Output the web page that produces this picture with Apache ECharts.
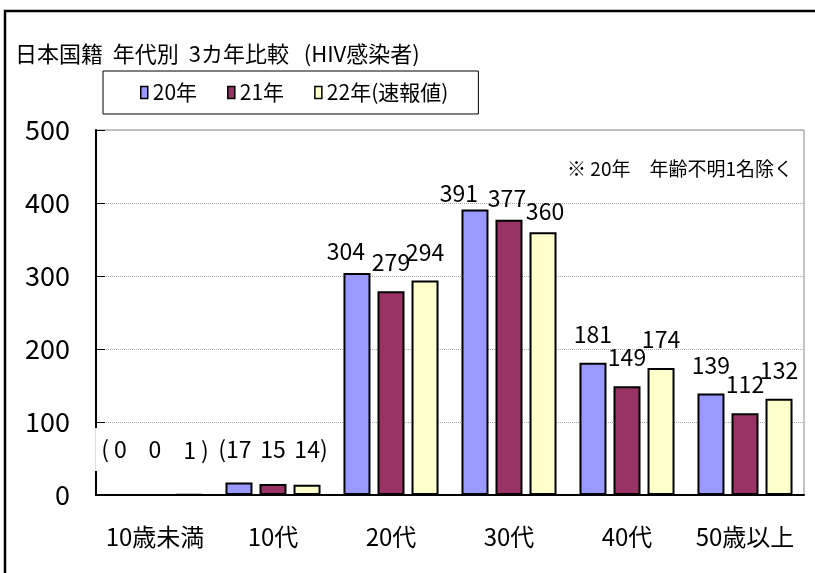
<!DOCTYPE html>
<html>
<head>
<meta charset="utf-8">
<script src="https://cdn.jsdelivr.net/npm/echarts@6/dist/echarts.min.js"></script>
<style>
  html, body { margin: 0; padding: 0; background: #fff; }
  #chart { width: 815px; height: 573px; }
</style>
</head>
<body>
<div id="chart"></div>
<script>
  // 年代別の人数
  const categories = ['10歳未満', '10代', '20代', '30代', '40代', '50歳以上']
  const seriesNames = ['20年', '21年', '22年(速報値)']
  const y20 = [0, 17, 304, 391, 181, 139]
  const y21 = [0, 15, 279, 377, 149, 112]
  const y22 = [1, 14, 294, 360, 174, 132]
  const yTicks = { min: 0, max: 500, interval: 100 }
  // 括弧付きで下に並べる区分
  const bracketCats = [0, 1]

  const colors = ['#9999FF', '#993366', '#FFFFCC']
  const font = '"Noto Sans CJK JP", sans-serif'

  // ラベル位置の微調整 [series][category] = [dx, dy]
  const labelNudge = {
    '0-2': [-11, 7], '1-2': [0, -1],
    '0-3': [-16, 12], '1-3': [-2, 7], '2-3': [2, 8]
  }

  const myChart = echarts.init(document.getElementById('chart'))

  function buildSeries(values, si) {
    return {
      name: seriesNames[si],
      type: 'bar',
      barWidth: 27,
      barGap: '26%',
      itemStyle: { color: colors[si], borderColor: '#000', borderWidth: 2 },
      label: {
        show: true,
        position: 'top',
        distance: 17,
        fontSize: 23,
        color: '#000',
        fontFamily: font
      },
      data: values.map((v, ci) => {
        let item = { value: v }
        if (v === 0) item.itemStyle = { borderWidth: 0 }
        if (bracketCats.includes(ci)) {
          let txt = String(v)
          let dx = 0
          if (si === 0) { txt = '(' + (v < 10 ? ' ' : '') + v; dx = v < 10 ? -7 : -4 }
          if (si === 2) { txt = v + (v < 10 ? ' ' : '') + ')'; dx = v < 10 ? 7 : 4 }
          item.label = {
            position: 'insideBottom',
            distance: 24,
            formatter: txt,
            offset: [dx, 0],
            backgroundColor: '#fff',
            padding: [10, 6]
          }
        } else {
          let n = labelNudge[si + '-' + ci]
          if (n) item.label = { offset: n }
        }
        return item
      })
    }
  }

  let option = {
    animation: false,
    textStyle: { fontFamily: font },
    title: [{
      text: '日本国籍  年代別  3カ年比較   (HIV感染者)',
      left: 15, top: 43, padding: 0,
      textStyle: { fontSize: 22, fontWeight: 'normal', color: '#000', fontFamily: font }
    }, {
      text: '※ 20年　年齢不明1名除く',
      right: 22, top: 159, padding: 0,
      textStyle: { fontSize: 19, fontWeight: 'normal', color: '#000', fontFamily: font }
    }],
    legend: {
      left: 103, top: 71,
      padding: [11, 30, 11, 37],
      borderColor: '#000', borderWidth: 1,
      icon: 'rect', itemWidth: 7, itemHeight: 12, itemGap: 30, itemTextGap: 4,
      itemStyle: { borderWidth: 1.5 },
      textStyle: { fontSize: 21, color: '#000', fontFamily: font }
    },
    graphic: [{
      type: 'rect',
      shape: { x: 5, y: 11, width: 840, height: 600 },
      style: { fill: 'none', stroke: '#000', lineWidth: 2.5 },
      silent: true
    }],
    grid: {
      left: 96, right: 11, top: 130, bottom: 78,
      show: true, borderColor: '#888', borderWidth: 1
    },
    xAxis: {
      type: 'category',
      data: categories,
      axisLine: { lineStyle: { color: '#000', width: 2 } },
      axisTick: { inside: true, length: 8, lineStyle: { color: '#888' } },
      axisLabel: { interval: 0, fontSize: 24, margin: 30, color: '#000', fontFamily: font }
    },
    yAxis: {
      type: 'value',
      min: yTicks.min, max: yTicks.max, interval: yTicks.interval,
      axisLine: { show: true, lineStyle: { color: '#000', width: 2 } },
      axisTick: { show: true, inside: true, length: 9, lineStyle: { color: '#000' } },
      splitLine: { lineStyle: { color: '#aaa', type: 'dotted' } },
      axisLabel: { fontSize: 27, margin: 26, color: '#000', fontFamily: font }
    },
    series: [y20, y21, y22].map(buildSeries)
  }
  myChart.setOption(option)
</script>
</body>
</html>
